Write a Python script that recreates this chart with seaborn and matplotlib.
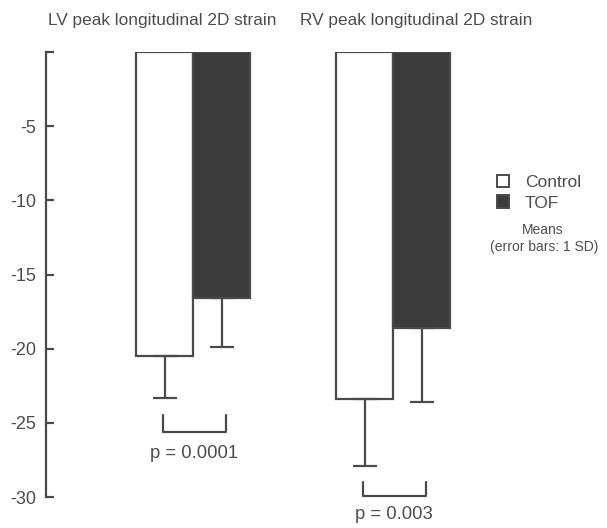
import matplotlib
matplotlib.use("Agg")
import matplotlib.pyplot as plt
import seaborn as sns
import pandas as pd
from matplotlib.patches import Patch

# Mean peak longitudinal 2D strain (%) and 1 SD per chamber and group
chambers = ["LV", "RV"]
groups = ["Control", "TOF"]
control_mean = [-20.5, -23.4]
control_sd = [2.8, 4.5]
tof_mean = [-16.6, -18.6]
tof_sd = [3.3, 5.0]
titles = ["LV peak longitudinal 2D strain", "RV peak longitudinal 2D strain"]
p_labels = ["p = 0.0001", "p = 0.003"]
y_ticks = [0, -5, -10, -15, -20, -25, -30]
y_tick_labels = ["", "-5", "-10", "-15", "-20", "-25", "-30"]

df = pd.DataFrame({
    "chamber": chambers * 2,
    "group": ["Control"] * 2 + ["TOF"] * 2,
    "mean": control_mean + tof_mean,
    "sd": control_sd + tof_sd,
})

sns.set_style("white")
plt.rcParams["font.family"] = ["Liberation Sans", "DejaVu Sans"]

GRAY = "#4a4a4a"
TXT = "#4d4d4d"
DARK = "#3c3c3c"

fig = plt.figure(figsize=(6.07, 5.28), dpi=100)
ax = fig.add_axes([46 / 607, 1 - 497 / 528, (600 - 46) / 607, (497 - 52) / 528])

sns.barplot(data=df, x="chamber", y="mean", hue="group", order=chambers,
            hue_order=groups, palette={"Control": "white", "TOF": DARK},
            width=0.57, errorbar=None, edgecolor=GRAY, linewidth=1.6,
            legend=False, ax=ax)

# One-sided (downward) SD error bars at each bar centre
bars = {}
for container, g in zip(ax.containers, groups):
    for patch, ch in zip(container.patches, chambers):
        bars[(g, ch)] = patch.get_x() + patch.get_width() / 2

for g in groups:
    sub = df[df["group"] == g].set_index("chamber").loc[chambers]
    xs = [bars[(g, ch)] for ch in chambers]
    ax.errorbar(xs, sub["mean"], yerr=[sub["sd"], [0] * len(xs)],
                fmt="none", ecolor=GRAY, elinewidth=1.6, capsize=8.5,
                capthick=1.6, zorder=1)

# Significance brackets, p-values and panel titles
bracket_tops = [-24.5, -29.0]
bracket_bottoms = [-25.6, -29.95]
p_y = [-27.1, -31.2]
title_x = [-0.155, 1.115]
for i, ch in enumerate(chambers):
    x0, x1 = bars[("Control", ch)] - 0.01, bars[("TOF", ch)] + 0.02
    ax.plot([x0, x0, x1, x1],
            [bracket_tops[i], bracket_bottoms[i], bracket_bottoms[i], bracket_tops[i]],
            color=GRAY, lw=1.6, clip_on=False)
    ax.text((x0 + x1) / 2, p_y[i], p_labels[i], ha="center", va="center",
            fontsize=13.3, color=TXT, clip_on=False)
    ax.text(title_x[i], 2.15, titles[i], ha="center", va="center",
            fontsize=12.4, color=TXT, clip_on=False)

ax.set_ylim(-30, 0)
ax.set_xlim(-0.735, 2.035)
ax.set_yticks(y_ticks)
ax.set_yticklabels(y_tick_labels)
ax.set_xticks([])
ax.set_xlabel("")
ax.set_ylabel("")
ax.tick_params(axis="y", direction="in", length=6, width=1.6, color=GRAY,
               labelcolor=TXT, labelsize=13, pad=7, left=True)
sns.despine(ax=ax, top=True, right=True, bottom=True)
ax.spines["left"].set_color(GRAY)
ax.spines["left"].set_linewidth(1.6)

# Legend and annotation note
handles = [Patch(facecolor="white", edgecolor=GRAY, linewidth=1.4, label="Control"),
           Patch(facecolor=DARK, edgecolor=GRAY, linewidth=1.4, label="TOF")]
fig.legend(handles=handles, loc="upper left", bbox_to_anchor=(497 / 607, 1 - 175 / 528),
           frameon=False, fontsize=12.5, handlelength=0.7, handleheight=0.7,
           handletextpad=0.9, labelspacing=0.3, labelcolor=TXT, borderpad=0,
           borderaxespad=0)
fig.text(543 / 607, 1 - 230 / 528, "Means", ha="center", va="center",
         fontsize=10, color=TXT)
fig.text(544 / 607, 1 - 247 / 528, "(error bars: 1 SD)", ha="center", va="center",
         fontsize=10, color=TXT)

fig.savefig("out.png", dpi=100, facecolor="white")
